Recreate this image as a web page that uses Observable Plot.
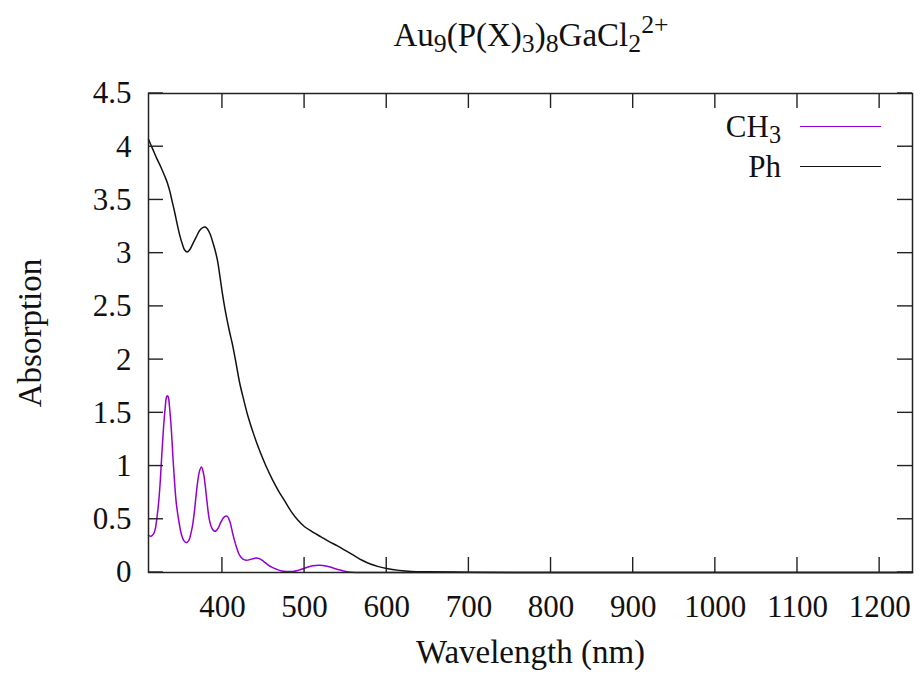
<!DOCTYPE html>
<html>
<head>
<meta charset="utf-8">
<script src="https://cdn.jsdelivr.net/npm/d3@7"></script>
<script src="https://cdn.jsdelivr.net/npm/@observablehq/plot@0.6"></script>
<style>
  body { margin: 0; background: #fff; font-family: "Liberation Serif", "Times New Roman", serif; color: #111; }
  #wrap { position: relative; width: 922px; height: 689px; }
  #title { position: relative; height: 70px; }
  #title span { position: absolute; left: 531px; top: 19px; transform: translateX(-50%); font-size: 33px; line-height: 1; white-space: nowrap; }
  #title sub, #title sup, .leg sub { font-size: 0.78em; line-height: 0; }
  #title sub, .leg sub { vertical-align: -0.25em; }
  #title sup { vertical-align: 0.5em; }
  .leg { position: absolute; font-size: 31px; line-height: 1; white-space: nowrap; }
  .legline { position: absolute; height: 0; }
</style>
</head>
<body>
<div id="wrap">
  <div id="title"><span>Au<sub>9</sub>(P(X)<sub>3</sub>)<sub>8</sub>GaCl<sub>2</sub><sup>2+</sup></span></div>
  <div id="chart"></div>
</div>
<script>
// ---- Data ----
const seriesNames = ["CH3", "Ph"];
const seriesColors = ["#9400d3", "#111111"];

const wavelengthCH3 = [310,313,316,318,320,322,324,326,328,330,332,333,334,336,338,340,342,344,347,350,353,356,359,362,364,366,368,370,372,374.5,377,379,381,384,387,390,392,395,398,402,405.6,409,413,417,421,425,429,433,437,441,445,450,455,460,466,472,478,486,492,498,504,510,518,526,534,542,550,558,570,600,700,800,900,1000,1100,1240];
const absCH3 =        [0.35,0.34,0.36,0.40,0.50,0.63,0.82,1.08,1.33,1.52,1.65,1.66,1.65,1.52,1.32,1.05,0.82,0.64,0.48,0.36,0.30,0.28,0.30,0.38,0.46,0.58,0.73,0.86,0.95,0.99,0.93,0.82,0.68,0.50,0.42,0.39,0.39,0.42,0.47,0.52,0.53,0.48,0.35,0.24,0.16,0.125,0.115,0.12,0.13,0.137,0.13,0.105,0.075,0.05,0.03,0.015,0.01,0.01,0.02,0.035,0.052,0.064,0.068,0.062,0.045,0.025,0.01,0.003,0,0,0,0,0,0,0,0];

const wavelengthPh = [310,315,320,325,330,333,336,339,342,345,348,351,354,357,360,364,368,372,376,379,382,385,388,391,394,397,400,403,406,409,412,416,421,426,431,438,445,453,461,468,476,484,492,500,510,520,530,540,550,560,570,580,590,600,615,630,650,700,750,800,900,1000,1100,1240];
const absPh =        [4.07,3.98,3.89,3.81,3.72,3.66,3.58,3.48,3.38,3.27,3.17,3.09,3.03,3.01,3.03,3.09,3.15,3.21,3.24,3.245,3.225,3.18,3.11,3.03,2.93,2.78,2.62,2.48,2.36,2.25,2.15,1.99,1.78,1.62,1.47,1.30,1.15,1.0,0.87,0.77,0.67,0.57,0.49,0.43,0.38,0.335,0.29,0.25,0.205,0.16,0.115,0.08,0.055,0.037,0.02,0.01,0.006,0.003,0.001,0,0,0,0,0];

const xTicks = [400, 500, 600, 700, 800, 900, 1000, 1100, 1200];
const yTicks = [0, 0.5, 1, 1.5, 2, 2.5, 3, 3.5, 4, 4.5];
const xDomain = [310, 1240];
const yDomain = [0, 4.5];
const xLabel = "Wavelength (nm)";
const yLabel = "Absorption";

// ---- Build table ----
const rows = [
  ...wavelengthCH3.map((w, i) => ({series: seriesNames[0], wl: w, a: absCH3[i]})),
  ...wavelengthPh.map((w, i) => ({series: seriesNames[1], wl: w, a: absPh[i]}))
];

// layout
const W = 922, H = 619, mT = 23, mB = 117, mL = 148, mR = 10;
const tick = 15;

const chart = Plot.plot({
  width: W,
  height: H,
  marginTop: mT,
  marginBottom: mB,
  marginLeft: mL,
  marginRight: mR,
  style: {fontFamily: "Liberation Serif, Times New Roman, serif", fontSize: "31px", color: "#111", background: "#fff"},
  x: {domain: xDomain},
  y: {domain: yDomain},
  color: {domain: seriesNames, range: seriesColors},
  marks: [
    Plot.axisX({ticks: xTicks, anchor: "bottom", tickSize: 0, tickPadding: 22, label: null, tickFormat: d => String(d)}),
    Plot.axisY({ticks: yTicks, anchor: "left", tickSize: 0, tickPadding: 17, label: null, tickFormat: d => String(d)}),
    Plot.line(rows, {x: "wl", y: "a", z: "series", stroke: "series", strokeWidth: 1.5, curve: "catmull-rom"}),
    Plot.frame({stroke: "#222", strokeWidth: 1.5}),
    Plot.text([xLabel], {text: d => d, frameAnchor: "bottom", dy: 90, fontSize: 33}),
    Plot.text([yLabel], {text: d => d, frameAnchor: "left", textAnchor: "middle", lineAnchor: "middle", dx: -118, rotate: -90, fontSize: 33})
  ]
});
document.getElementById("chart").appendChild(chart);

// ---- Inward, mirrored tick marks (positions from Plot's scales) ----
const sx = chart.scale("x"), sy = chart.scale("y");
const svg = d3.select(chart);
const tg = svg.append("g").attr("stroke", "#222").attr("stroke-width", 1.4).attr("fill", "none");
const yBottom = H - mB, yTop = mT, xLeft = mL, xRight = W - mR;
xTicks.forEach(v => {
  const px = sx.apply(v);
  tg.append("line").attr("x1", px).attr("x2", px).attr("y1", yBottom).attr("y2", yBottom - tick);
  tg.append("line").attr("x1", px).attr("x2", px).attr("y1", yTop).attr("y2", yTop + tick);
});
yTicks.forEach(v => {
  const py = sy.apply(v);
  tg.append("line").attr("x1", xLeft).attr("x2", xLeft + tick).attr("y1", py).attr("y2", py);
  tg.append("line").attr("x1", xRight).attr("x2", xRight - tick).attr("y1", py).attr("y2", py);
});

// ---- Legend (HTML overlay) ----
const wrap = document.getElementById("wrap");
seriesNames.forEach((name, i) => {
  const yc = 127 + i * 40;
  const t = document.createElement("div");
  t.className = "leg";
  t.innerHTML = name.replace(/(\d+)/g, "<sub>$1</sub>");
  t.style.right = (922 - 781) + "px";
  t.style.top = (yc - 16) + "px";
  wrap.appendChild(t);
  const l = document.createElement("div");
  l.className = "legline";
  l.style.left = "800px";
  l.style.width = "81px";
  l.style.top = (yc - 0.75) + "px";
  l.style.borderTop = "1.5px solid " + seriesColors[i];
  wrap.appendChild(l);
});
</script>
</body>
</html>
